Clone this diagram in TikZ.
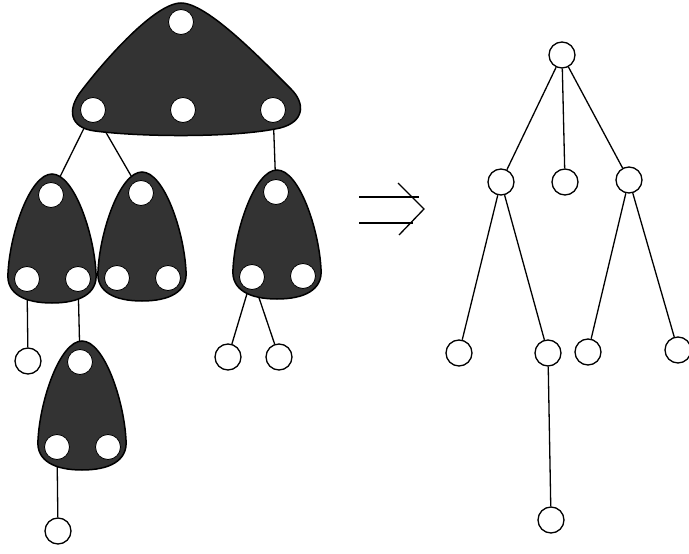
\documentclass[tikz,border=0pt]{standalone}
\pgfdeclarelayer{edgelayer}
\pgfdeclarelayer{bloblayer}
\pgfsetlayers{edgelayer,bloblayer,main}
\newcommand\blobat[2]{%
  \begin{scope}[shift={(#1,#2)}]
    \path[blobfill] (0,0) .. controls (-22,0) and (-42,59) .. (-44,99)
      .. controls (-46,120) and (-27,129) .. (0,129)
      .. controls (27,129) and (46,120) .. (44,99)
      .. controls (42,59) and (22,0) .. (0,0) -- cycle;
  \end{scope}}
\begin{document}
\begin{tikzpicture}[x=1pt,y=-1pt,
  edge/.style={line width=1.3pt},
  inner/.style={circle,draw,line width=0.8pt,fill=white,minimum size=25pt,inner sep=0pt},
  leaf/.style={circle,draw,line width=1.3pt,fill=white,minimum size=26pt,inner sep=0pt},
  blobfill/.style={fill=black!80,draw=black,line width=1.5pt}]
\useasboundingbox (0,0) rectangle (689,554);

% ---- left: blobs' nodes
\node[inner] (t0) at (181,22) {};
\node[inner] (t1) at (93,110) {};
\node[inner] (t2) at (183,110) {};
\node[inner] (t3) at (273,110) {};

\node[inner] (a0) at (51,195) {};
\node[inner] (a1) at (27,279) {};
\node[inner] (a2) at (78,279) {};

\node[inner] (b0) at (141,193) {};
\node[inner] (b1) at (117,278) {};
\node[inner] (b2) at (168,278) {};

\node[inner] (c0) at (276,192) {};
\node[inner] (c1) at (252,277) {};
\node[inner] (c2) at (303,276) {};

\node[inner] (d0) at (80,362) {};
\node[inner] (d1) at (57,447) {};
\node[inner] (d2) at (108,447) {};

\node[leaf] (la) at (28,361) {};
\node[leaf] (lc1) at (228,357) {};
\node[leaf] (lc2) at (279,357) {};
\node[leaf] (ld) at (58,531) {};

\begin{pgfonlayer}{edgelayer}
  \draw[edge] (t1.center) -- (a0.center);
  \draw[edge] (t1.center) -- (b0.center);
  \draw[edge] (t3.center) -- (c0.center);
  \draw[edge] (a1.center) -- (la);
  \draw[edge] (a2.center) -- (d0.center);
  \draw[edge] (c1.center) -- (lc1);
  \draw[edge] (c1.center) -- (lc2);
  \draw[edge] (d1.center) -- (ld);
\end{pgfonlayer}

\begin{pgfonlayer}{bloblayer}
  \path[blobfill] (181,3) .. controls (155,3) and (105,60) .. (82,90)
    .. controls (66,110) and (70,128) .. (95,131)
    .. controls (140,137) and (235,138) .. (280,128)
    .. controls (304,122) and (306,104) .. (291,89)
    .. controls (260,58) and (207,3) .. (181,3) -- cycle;
  \blobat{52}{174}
  \blobat{142}{172}
  \blobat{277}{170}
  \blobat{82}{341}
\end{pgfonlayer}

% ---- arrow
\coordinate (ar1s) at (359,197);
\coordinate (ar1e) at (419,197);
\coordinate (ar2s) at (359,223);
\coordinate (ar2e) at (413,223);
\coordinate (ch1) at (398,183);
\coordinate (ch2) at (424,209);
\coordinate (ch3) at (399,235);
\draw[edge] (ar1s) -- (ar1e);
\draw[edge] (ar2s) -- (ar2e);
\draw[edge,line join=miter] (ch1) -- (ch2) -- (ch3);

% ---- right tree
\node[leaf] (r) at (562,55) {};
\node[leaf] (r1) at (501,182) {};
\node[leaf] (r2) at (565,182) {};
\node[leaf] (r3) at (629,180) {};
\node[leaf] (r11) at (459,353) {};
\node[leaf] (r12) at (548,353) {};
\node[leaf] (r31) at (588,352) {};
\node[leaf] (r32) at (678,350) {};
\node[leaf] (r121) at (551,520) {};

\draw[edge] (r) -- (r1);
\draw[edge] (r) -- (r2);
\draw[edge] (r) -- (r3);
\draw[edge] (r1) -- (r11);
\draw[edge] (r1) -- (r12);
\draw[edge] (r3) -- (r31);
\draw[edge] (r3) -- (r32);
\draw[edge] (r12) -- (r121);
\end{tikzpicture}
\end{document}
